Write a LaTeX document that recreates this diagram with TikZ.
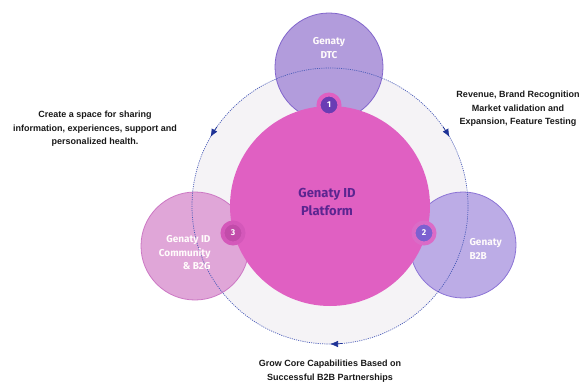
\documentclass[tikz,border=0pt]{standalone}
\usepackage{fontspec}
\setmainfont{Liberation Sans}
\newfontfamily\circfont{Fira Sans}
\usetikzlibrary{arrows.meta}
\definecolor{ringgray}{HTML}{F5F3F6}
\definecolor{flowblue}{HTML}{4A5CB8}
\definecolor{arrowblue}{HTML}{1E3296}
\definecolor{hotpink}{HTML}{E060C2}
\definecolor{platformtext}{HTML}{5B2590}
\definecolor{lavender}{HTML}{B29CDC}
\definecolor{lavenderedge}{HTML}{8266CC}
\definecolor{lilac}{HTML}{BCACE6}
\definecolor{lilacedge}{HTML}{8C74D6}
\definecolor{rose}{HTML}{E0A6D8}
\definecolor{roseedge}{HTML}{CC78C4}
\definecolor{badgeone}{HTML}{6A3CB4}
\definecolor{badgetwo}{HTML}{7C60D0}
\definecolor{badgethree}{HTML}{C24CAA}
\definecolor{ringthree}{HTML}{D458BA}

\begin{document}
\begin{tikzpicture}[x=1pt,y=1pt,font=\bfseries\fontsize{9}{13.5}\selectfont,>=Latex]
\tikzset{sat/.style={circle,draw,line width=0.8pt,minimum size=108pt,inner sep=0pt}, satlbl/.style={font=\circfont\bfseries\fontsize{10}{13.5}\selectfont,text=white!94!pink}, badge/.style={circle,minimum size=21pt,inner sep=0pt,line width=4pt,text=white,font=\circfont\bfseries\fontsize{8.5}{8.5}\selectfont}, note/.style={align=center,text=black!90}, flow/.style={-{Latex[length=8pt,width=6.5pt]},arrowblue,line width=0.7pt}}
\useasboundingbox (0,0) rectangle (580,383);
\coordinate (hub) at (330,177);
\fill[ringgray] (hub) circle[radius=138];
% satellite circles
\node[sat,draw=lavenderedge,fill=lavender] (dtc) at (329,316) {};
\node[sat,draw=lilacedge,fill=lilac,minimum size=106pt] (btob) at (463,138) {};
\node[sat,draw=roseedge,fill=rose] (comm) at (195,137) {};
\node[circle,fill=hotpink,minimum size=200pt,inner sep=0pt] (core) at (hub) {};
\draw[flowblue,line width=0.7pt,dash pattern=on 1.1pt off 1.1pt] (hub) circle[radius=138];
\draw[flow] ([shift={(35:138)}]hub) arc[start angle=35,end angle=30,radius=138];
\draw[flow] ([shift={(145:138)}]hub) arc[start angle=145,end angle=150,radius=138];
\draw[flow] ([shift={(275:138)}]hub) arc[start angle=275,end angle=270,radius=138];
% labels
\node[satlbl,align=center] at ([yshift=19pt]dtc.center) {Genaty\\DTC};
\node[satlbl,align=left,anchor=west] at (466,134) {Genaty\\B2B};
\node[satlbl,align=right,anchor=east] at (214,130) {Genaty ID\\Community\\\& B2G};
\node[align=center,text=platformtext,font=\circfont\bfseries\fontsize{13}{18}\selectfont] (plat) at (327,181) {Genaty ID\\Platform};
% badges
\node[badge,fill=badgeone,draw=hotpink] (n1) at (329,278) {1};
\node[badge,fill=badgetwo,draw=hotpink!85!lilac] (n2) at (424,150) {2};
\node[badge,fill=badgethree,draw=ringthree] (n3) at (233,150) {3};
% notes
\node[note] (rev) at (518,274) {Revenue, Brand Recognition\\Market validation and\\Expansion, Feature Testing};
\node[note] (share) at (95,254) {Create a space for sharing\\information, experiences, support and\\personalized health.};
\node[note] (grow) at (330,12) {Grow Core Capabilities Based on\\Successful B2B Partnerships};
\end{tikzpicture}
\end{document}
